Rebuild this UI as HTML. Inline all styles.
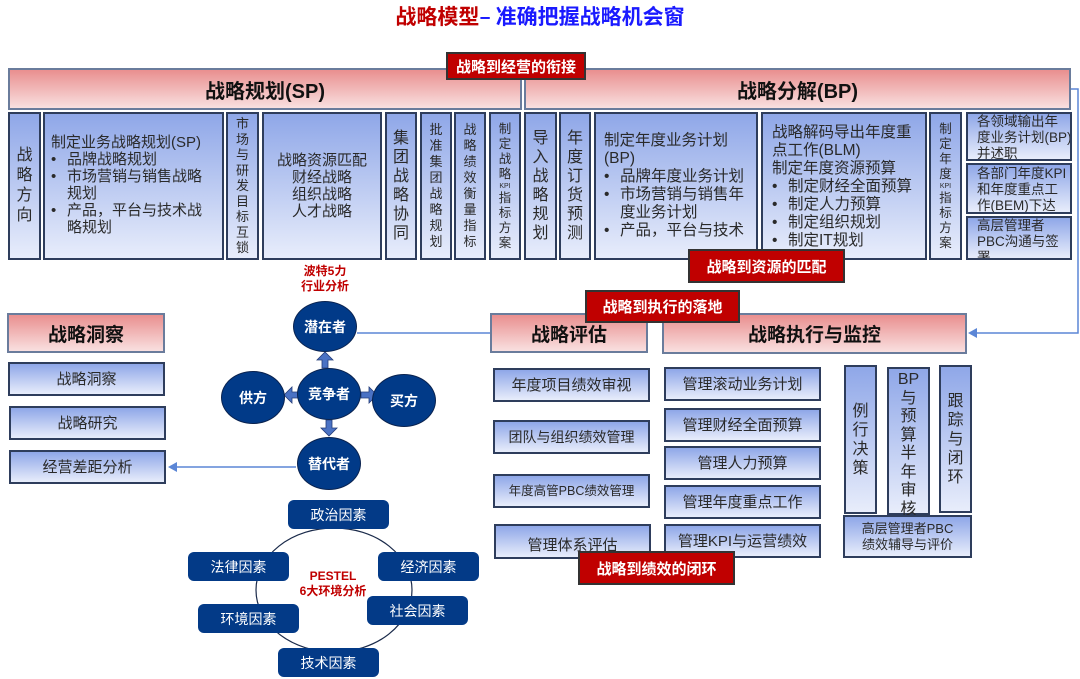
<!DOCTYPE html>
<html><head><meta charset="utf-8"><style>
*{margin:0;padding:0;box-sizing:border-box}
body{width:1080px;height:679px;position:relative;background:#fff;font-family:"Liberation Sans","Noto Sans CJK SC",sans-serif;overflow:hidden}
.a{position:absolute}
.b{position:absolute;background:linear-gradient(#8fa7e8,#e8edfb);border:2px solid #2e3d5c;color:#2a2a2a;font-size:15px;line-height:17px;display:flex;align-items:center;justify-content:center;text-align:center}
.v{flex-direction:column;text-align:center}
.h{position:absolute;background:linear-gradient(#e98f8f,#f9e0e0);border:2px solid #6a7c9c;font-weight:bold;color:#111;display:flex;align-items:center;justify-content:center}
.r{position:absolute;background:#c00000;border:2px solid #333;color:#fff;font-weight:bold;font-size:15px;display:flex;align-items:center;justify-content:center}
.l{text-align:left;justify-content:flex-start;align-items:flex-start;padding:4px 6px}
.e{position:absolute;background:#013a88;border:1px solid #0a2350;border-radius:50%;color:#fff;font-weight:bold;font-size:14px;display:flex;align-items:center;justify-content:center}
.p{position:absolute;background:#033a87;border-radius:6px;color:#fff;font-size:14px;display:flex;align-items:center;justify-content:center;height:29px;width:101px}
ul{list-style:none}
li{padding-left:16px;text-indent:-16px}
li:before{content:"•";display:inline-block;width:16px;text-indent:0}
.k{font-size:7px;line-height:9px}
.s{font-size:13.5px;line-height:16px;padding:0 2px 0 9px;overflow:hidden;white-space:nowrap}
</style></head><body>
<div class="a" style="left:0;width:1080px;top:1px;text-align:center;font-size:21px;font-weight:bold;font-family:'Noto Sans CJK SC',sans-serif"><span style="color:#c00000">战略模型</span><span style="color:#1a1aff">– 准确把握战略机会窗</span></div>

<svg class="a" style="left:0;top:0" width="1080" height="679">
<polyline points="1070,89 1078,89 1078,333 976,333" fill="none" stroke="#5b86d6" stroke-width="1.5"/>
<polygon points="968,333 977,328 977,338" fill="#5b86d6"/>
<line x1="357" y1="333" x2="490" y2="333" stroke="#5b86d6" stroke-width="1.5"/>
<line x1="296" y1="467" x2="176" y2="467" stroke="#5b86d6" stroke-width="1.5"/>
<polygon points="168,467 177,462 177,472" fill="#5b86d6"/>
<ellipse cx="334" cy="590" rx="78" ry="62" fill="none" stroke="#1a2a4a" stroke-width="1.2"/>
<g fill="#4a72c4" stroke="#243c78" stroke-width="0.8">
<polygon points="322,368 322,360 317,360 325,352 333,360 328,360 328,368"/>
<polygon points="326,420 326,428 321,428 329,436 337,428 332,428 332,420"/>
<polygon points="300,392 292,392 292,387 284,395 292,403 292,398 300,398"/>
<polygon points="361,392 369,392 369,387 377,395 369,403 369,398 361,398"/>
</g>
</svg>

<div class="h" style="left:8px;top:68px;width:514px;height:42px;font-size:20px">战略规划(SP)</div>
<div class="h" style="left:524px;top:68px;width:547px;height:42px;font-size:20px">战略分解(BP)</div>
<div class="r" style="left:446px;top:52px;width:140px;height:28px">战略到经营的衔接</div>

<div class="b v" style="left:8px;top:112px;width:33px;height:148px;font-size:16px;line-height:20px">战<br>略<br>方<br>向</div>
<div class="b l" style="left:43px;top:112px;width:181px;height:148px;padding-top:20px"><div>制定业务战略规划(SP)<ul><li>品牌战略规划</li><li>市场营销与销售战略规划</li><li>产品，平台与技术战略规划</li></ul></div></div>
<div class="b v" style="left:226px;top:112px;width:33px;height:148px;font-size:13px;line-height:15.5px">市<br>场<br>与<br>研<br>发<br>目<br>标<br>互<br>锁</div>
<div class="b" style="left:262px;top:112px;width:120px;height:148px">战略资源匹配<br>财经战略<br>组织战略<br>人才战略</div>
<div class="b v" style="left:385px;top:112px;width:32px;height:148px;font-size:16px;line-height:19px">集<br>团<br>战<br>略<br>协<br>同</div>
<div class="b v" style="left:420px;top:112px;width:32px;height:148px;font-size:13px;line-height:16px">批<br>准<br>集<br>团<br>战<br>略<br>规<br>划</div>
<div class="b v" style="left:454px;top:112px;width:32px;height:148px;font-size:13px;line-height:16px">战<br>略<br>绩<br>效<br>衡<br>量<br>指<br>标</div>
<div class="b v" style="left:489px;top:112px;width:32px;height:148px;font-size:12.5px;line-height:15px">制<br>定<br>战<br>略<br><span class="k">KPI</span>指<br>标<br>方<br>案</div>
<div class="b v" style="left:524px;top:112px;width:33px;height:148px;font-size:16px;line-height:19px">导<br>入<br>战<br>略<br>规<br>划</div>
<div class="b v" style="left:559px;top:112px;width:32px;height:148px;font-size:16px;line-height:19px">年<br>度<br>订<br>货<br>预<br>测</div>
<div class="b l" style="left:594px;top:112px;width:164px;height:148px;padding:18px 6px 0 8px;font-size:15.5px;line-height:18px"><div>制定年度业务计划(BP)<ul><li>品牌年度业务计划</li><li>市场营销与销售年度业务计划</li><li>产品，平台与技术</li></ul></div></div>
<div class="b l" style="left:761px;top:112px;width:166px;height:148px;padding:10px 6px 0 9px;font-size:15.5px;line-height:18px"><div>战略解码导出年度重点工作(BLM)<br>制定年度资源预算<ul><li>制定财经全面预算</li><li>制定人力预算</li><li>制定组织规划</li><li>制定IT规划</li></ul></div></div>
<div class="b v" style="left:929px;top:112px;width:33px;height:148px;font-size:12.5px;line-height:15px">制<br>定<br>年<br>度<br><span class="k">KPI</span>指<br>标<br>方<br>案</div>
<div class="b l s" style="left:966px;top:112px;width:106px;height:49px">各领域输出年<br>度业务计划(BP)<br>并述职</div>
<div class="b l s" style="left:966px;top:163px;width:106px;height:51px;padding-top:1px">各部门年度KPI<br>和年度重点工<br>作(BEM)下达</div>
<div class="b l s" style="left:966px;top:216px;width:106px;height:44px;padding-top:0">高层管理者<br>PBC沟通与签<br>署</div>
<div class="r" style="left:688px;top:249px;width:157px;height:34px">战略到资源的匹配</div>

<div class="a" style="left:280px;top:264px;width:90px;text-align:center;color:#c00000;font-weight:bold;font-size:12px;line-height:15px">波特5力<br>行业分析</div>
<div class="e" style="left:293px;top:301px;width:64px;height:51px">潜在者</div>
<div class="e" style="left:221px;top:371px;width:64px;height:53px">供方</div>
<div class="e" style="left:297px;top:368px;width:64px;height:52px">竞争者</div>
<div class="e" style="left:372px;top:374px;width:64px;height:53px">买方</div>
<div class="e" style="left:297px;top:437px;width:64px;height:53px">替代者</div>

<div class="h" style="left:7px;top:313px;width:158px;height:40px;font-size:19px">战略洞察</div>
<div class="b" style="left:8px;top:362px;width:157px;height:34px">战略洞察</div>
<div class="b" style="left:9px;top:406px;width:157px;height:34px">战略研究</div>
<div class="b" style="left:9px;top:450px;width:157px;height:34px">经营差距分析</div>

<div class="p" style="left:288px;top:500px">政治因素</div>
<div class="p" style="left:188px;top:552px">法律因素</div>
<div class="p" style="left:378px;top:552px">经济因素</div>
<div class="p" style="left:198px;top:604px">环境因素</div>
<div class="p" style="left:367px;top:596px">社会因素</div>
<div class="p" style="left:278px;top:648px">技术因素</div>
<div class="a" style="left:283px;top:569px;width:100px;text-align:center;color:#c00000;font-weight:bold;font-size:12px;line-height:15px">PESTEL<br>6大环境分析</div>

<div class="h" style="left:490px;top:313px;width:158px;height:40px;font-size:19px">战略评估</div>
<div class="h" style="left:662px;top:313px;width:305px;height:41px;font-size:19px">战略执行与监控</div>
<div class="r" style="left:585px;top:290px;width:155px;height:33px">战略到执行的落地</div>

<div class="b" style="left:493px;top:368px;width:157px;height:34px">年度项目绩效审视</div>
<div class="b" style="left:493px;top:420px;width:157px;height:34px;font-size:14px">团队与组织绩效管理</div>
<div class="b" style="left:493px;top:474px;width:157px;height:34px;font-size:12.5px">年度高管PBC绩效管理</div>
<div class="b" style="left:494px;top:524px;width:157px;height:35px;padding-top:8px">管理体系评估</div>
<div class="b" style="left:664px;top:367px;width:157px;height:34px">管理滚动业务计划</div>
<div class="b" style="left:664px;top:408px;width:157px;height:34px">管理财经全面预算</div>
<div class="b" style="left:664px;top:446px;width:157px;height:34px">管理人力预算</div>
<div class="b" style="left:664px;top:485px;width:157px;height:34px">管理年度重点工作</div>
<div class="b" style="left:664px;top:524px;width:157px;height:34px">管理KPI与运营绩效</div>
<div class="b v" style="left:844px;top:365px;width:33px;height:149px;font-size:16px;line-height:19px">例<br>行<br>决<br>策</div>
<div class="b" style="left:887px;top:367px;width:43px;height:148px;font-size:16px;line-height:18.5px;padding-top:2px;flex-direction:column;justify-content:flex-start">BP<br>与<br>预<br>算<br>半<br>年<br>审<br>核</div>
<div class="b v" style="left:939px;top:365px;width:33px;height:148px;font-size:16px;line-height:19px">跟<br>踪<br>与<br>闭<br>环</div>
<div class="b" style="left:843px;top:515px;width:129px;height:43px;font-size:13px;line-height:16px">高层管理者PBC<br>绩效辅导与评价</div>
<div class="r" style="left:578px;top:551px;width:157px;height:34px">战略到绩效的闭环</div>
</body></html>
